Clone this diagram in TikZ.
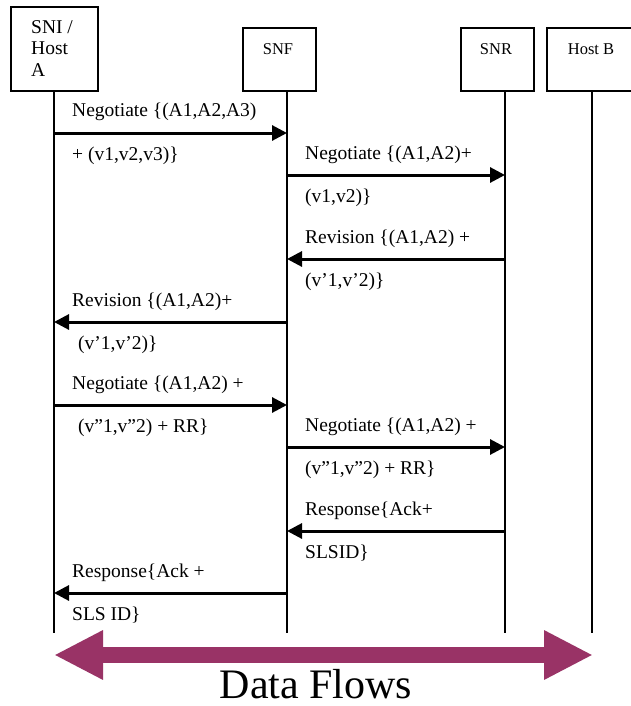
\documentclass[tikz,border=0pt]{standalone}
\usepackage{fontspec}
\setmainfont{Liberation Serif}
\usepackage{tikz}
\usetikzlibrary{arrows.meta,calc}

\definecolor{flowplum}{RGB}{153,51,102}

\tikzset{
  hostbox/.style={draw,line width=1.5pt,inner sep=0pt},
  boxname/.style={inner sep=0pt,anchor=base,font=\fontsize{16.5}{20}\selectfont},
  lifeline/.style={line width=1.5pt},
  msg/.style={line width=3pt,-{Triangle[length=15pt,width=15pt]}},
  msgtext/.style={inner sep=0pt,anchor=base west,font=\fontsize{19.5}{22}\selectfont},
}

\begin{document}
\begin{tikzpicture}[x=1pt,y=-1pt]
\clip (0,0) rectangle (631,706);
\fill[white] (0,0) rectangle (631,706);

% boxes on top
\node[hostbox,minimum width=87pt,minimum height=84pt] (sni) at (54.5,49) {};
\node[msgtext,anchor=north west,align=left,font=\fontsize{19.5}{21.5}\selectfont] (sniname) at (31,20) {SNI /\\Host\\A};
\node[hostbox,minimum width=73pt,minimum height=63pt] (snf) at (279.5,59.5) {};
\node[boxname] (snfname) at (278,55) {SNF};
\node[hostbox,minimum width=73pt,minimum height=63pt] (snr) at (497.5,59.5) {};
\node[boxname] (snrname) at (496,55) {SNR};
\node[hostbox,minimum width=88pt,minimum height=63pt] (hostb) at (591,59.5) {};
\node[boxname] (hostbname) at (591,55) {Host B};

% lifelines
\coordinate (sniEnd) at (54,633);
\coordinate (snfEnd) at (287,633);
\coordinate (snrEnd) at (505,633);
\coordinate (hostbEnd) at (592,633);
\draw[lifeline] (sni.south -| sniEnd) -- (sniEnd);
\draw[lifeline] (snf.south -| snfEnd) -- (snfEnd);
\draw[lifeline] (snr.south -| snrEnd) -- (snrEnd);
\draw[lifeline] (hostb.south -| hostbEnd) -- (hostbEnd);

% messages
\draw[msg] (sniEnd |- 0,133) -- (snfEnd |- 0,133);
\node[msgtext] (neg1a) at (72,117) {Negotiate \{(A1,A2,A3)};
\node[msgtext] (neg1b) at (72,160) {+ (v1,v2,v3)\}};

\draw[msg] (snfEnd |- 0,175) -- (snrEnd |- 0,175);
\node[msgtext] (neg2a) at (305,159) {Negotiate \{(A1,A2)+};
\node[msgtext] (neg2b) at (305,202) {(v1,v2)\}};

\draw[msg] (snrEnd |- 0,259) -- (snfEnd |- 0,259);
\node[msgtext] (rev1a) at (305,243) {Revision \{(A1,A2) +};
\node[msgtext] (rev1b) at (305,286) {(v’1,v’2)\}};

\draw[msg] (snfEnd |- 0,322) -- (sniEnd |- 0,322);
\node[msgtext] (rev2a) at (72,306) {Revision \{(A1,A2)+};
\node[msgtext] (rev2b) at (78,349) {(v’1,v’2)\}};

\draw[msg] (sniEnd |- 0,405) -- (snfEnd |- 0,405);
\node[msgtext] (neg3a) at (72,389) {Negotiate \{(A1,A2) +};
\node[msgtext] (neg3b) at (78,432) {(v”1,v”2) + RR\}};

\draw[msg] (snfEnd |- 0,447) -- (snrEnd |- 0,447);
\node[msgtext] (neg4a) at (305,431) {Negotiate \{(A1,A2) +};
\node[msgtext] (neg4b) at (305,474) {(v”1,v”2) + RR\}};

\draw[msg] (snrEnd |- 0,531) -- (snfEnd |- 0,531);
\node[msgtext] (resp1a) at (305,515) {Response\{Ack+};
\node[msgtext] (resp1b) at (305,558) {SLSID\}};

\draw[msg] (snfEnd |- 0,593) -- (sniEnd |- 0,593);
\node[msgtext] (resp2a) at (72,577) {Response\{Ack +};
\node[msgtext] (resp2b) at (72,620) {SLS ID\}};

% data flows
\coordinate (flowL) at (54,655);
\coordinate (flowR) at (593,655);
\draw[flowplum,line width=16pt,{Triangle[length=49pt,width=46pt]}-{Triangle[length=49pt,width=46pt]}] (flowL) -- (flowR);
\node[inner sep=0pt,anchor=base,text depth=0pt,font=\fontsize{42}{48}\selectfont] (flows) at (316,698) {Data Flows};
\end{tikzpicture}
\end{document}
